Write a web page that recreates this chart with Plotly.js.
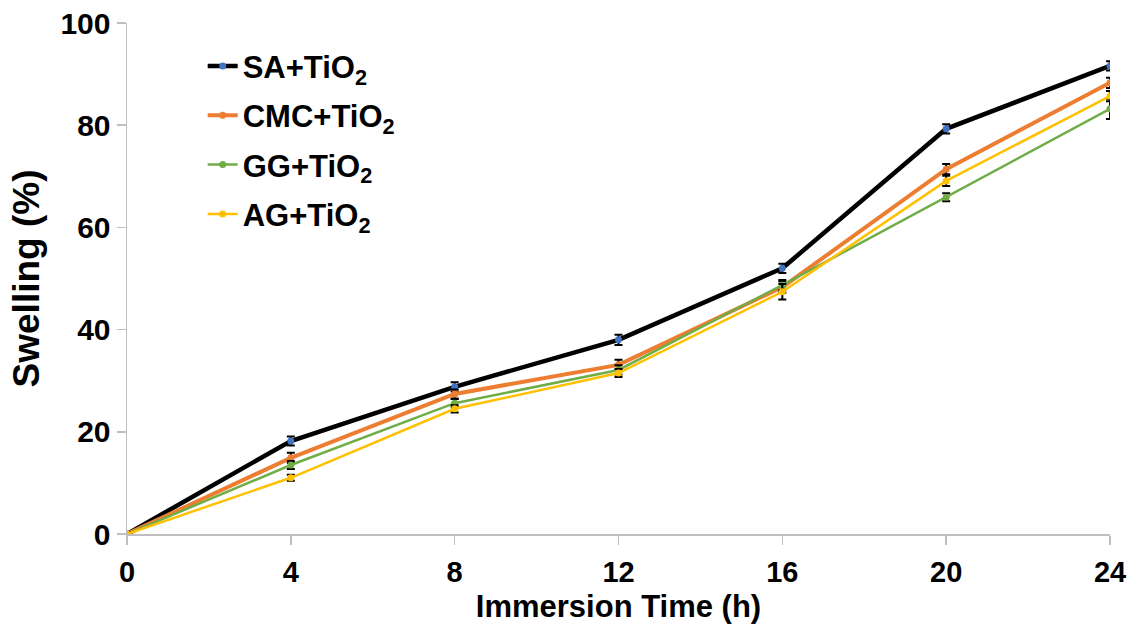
<!DOCTYPE html>
<html>
<head>
<meta charset="utf-8">
<script src="https://cdn.plot.ly/plotly-3.0.1.min.js"></script>
<style>html,body{margin:0;padding:0;background:#fff;}#chart{width:1135px;height:630px;}</style>
</head>
<body>
<div id="chart"></div>
<script>
const hours = [0, 4, 8, 12, 16, 20, 24];
const seriesNames = ["SA+TiO<sub>2</sub>", "CMC+TiO<sub>2</sub>", "GG+TiO<sub>2</sub>", "AG+TiO<sub>2</sub>"];
const saValues = [0, 18.2, 28.8, 38.0, 52.0, 79.3, 91.6];
const cmcValues = [0, 14.9, 27.4, 33.1, 48.3, 71.4, 88.3];
const ggValues = [0, 13.5, 25.6, 32.1, 48.7, 65.9, 83.2];
const agValues = [0, 11.0, 24.5, 31.5, 47.4, 69.1, 85.7];
const saErrors = [0.3, 0.9, 0.9, 1.0, 0.9, 0.9, 0.9];
const cmcErrors = [0.3, 1.0, 0.9, 1.0, 1.1, 1.0, 1.0];
const ggErrors = [0.3, 0.8, 0.8, 0.9, 1.0, 0.8, 2.0];
const agErrors = [0.3, 0.6, 0.7, 0.8, 1.5, 1.0, 1.0];

const lineColors = ["#000000", "#ED7D31", "#70AD47", "#FFC000"];
const markerColors = ["#4472C4", "#ED7D31", "#70AD47", "#FFC000"];
const lineWidths = [4.5, 4, 2.5, 2.5];
const allValues = [saValues, cmcValues, ggValues, agValues];
const allErrors = [saErrors, cmcErrors, ggErrors, agErrors];

const traces = allValues.map((vals, i) => ({
  x: hours,
  y: vals,
  name: seriesNames[i],
  legendgroup: "g" + i,
  type: "scatter",
  mode: "lines+markers",
  line: {color: lineColors[i], width: lineWidths[i]},
  marker: {color: markerColors[i], size: 7},
  error_y: {type: "data", array: allErrors[i], visible: true, color: "#000000", thickness: 2, width: 4}
}));

const font = "'Liberation Sans', Arial, sans-serif";
const layout = {
  width: 1135, height: 630,
  margin: {l: 127, r: 25, t: 23, b: 96},
  paper_bgcolor: "#fff", plot_bgcolor: "#fff",
  showlegend: true,
  legend: {x: 0.077, y: 0.968, xanchor: "left", yanchor: "top", bgcolor: "rgba(0,0,0,0)",
    font: {family: font, size: 31, color: "#000", weight: "bold"}, tracegroupgap: 6, itemwidth: 30},
  xaxis: {
    range: [0, 24], tickvals: hours, ticktext: hours.map(String),
    showgrid: false, zeroline: false, showline: true, linecolor: "#BFBFBF", linewidth: 1.5,
    ticks: "outside", ticklen: 9, tickcolor: "#BFBFBF", tickwidth: 1.5,
    tickfont: {family: font, size: 29, color: "#000", weight: "bold"},
    ticklabelstandoff: 3,
    title: {text: "Immersion Time (h)", font: {family: font, size: 31, color: "#000", weight: "bold"}, standoff: 8}
  },
  yaxis: {
    range: [0, 100], tickvals: [0, 20, 40, 60, 80, 100],
    showgrid: false, zeroline: false, showline: true, linecolor: "#BFBFBF", linewidth: 1.5,
    ticks: "outside", ticklen: 9, tickcolor: "#BFBFBF", tickwidth: 1.5,
    tickfont: {family: font, size: 30, color: "#000", weight: "bold"},
    title: {text: "Swelling (%)", font: {family: font, size: 37, color: "#000", weight: "bold"}, standoff: 9}
  }
};
Plotly.newPlot("chart", traces, layout, {displayModeBar: false, staticPlot: true});
</script>
</body>
</html>
